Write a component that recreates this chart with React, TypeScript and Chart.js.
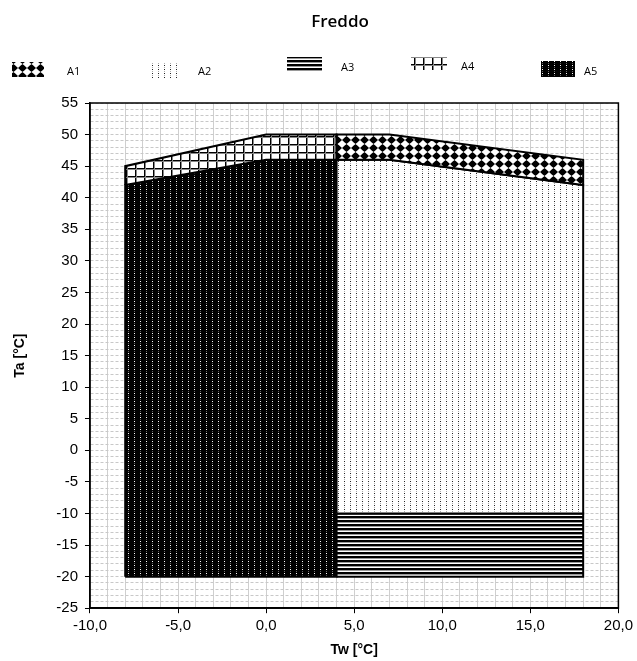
import React, { useEffect, useRef } from 'react';
import { Chart, registerables } from 'chart.js';

Chart.register(...registerables);

// ---------- data ----------
const TITLE = 'Freddo';
const X_TITLE = 'Tw [°C]';
const Y_TITLE = 'Ta [°C]';
const X_MIN = -10;
const X_MAX = 20;
const Y_MIN = -25;
const Y_MAX = 55;
const SERIES_NAMES = ['A1', 'A2', 'A3', 'A4', 'A5'];

const A1_TW = [4, 4, 7, 18, 18, 7, 4];
const A1_TA = [46, 50, 50, 46, 42, 46, 46];
const A2_TW = [4, 4, 7, 18, 18, 4];
const A2_TA = [-10, 46, 46, 42, -10, -10];
const A3_TW = [4, 4, 18, 18, 4];
const A3_TA = [-20, -10, -10, -20, -20];
const A4_TW = [-8, -8, 0, 4, 4, 0, -8];
const A4_TA = [42, 45, 50, 50, 46, 46, 42];
const A5_TW = [-8, -8, 0, 4, 4, -8];
const A5_TA = [-20, 42, 46, 46, -20, -20];

const SERIES_TW = [A1_TW, A2_TW, A3_TW, A4_TW, A5_TW];
const SERIES_TA = [A1_TA, A2_TA, A3_TA, A4_TA, A5_TA];

// ---------- layout for title / custom legend (positions only) ----------
const TITLE_POS = { x: 340, y: 22 };
const LEGEND_LAYOUT = [
  { sx: 12, sy: 62, sw: 32, sh: 15, tx: 67, ty: 72 },
  { sx: 148, sy: 62, sw: 33, sh: 16, tx: 198, ty: 72 },
  { sx: 287, sy: 57, sw: 35, sh: 15, tx: 341, ty: 68 },
  { sx: 411, sy: 57, sw: 36, sh: 13, tx: 461, ty: 67 },
  { sx: 541, sy: 61, sw: 34, sh: 16, tx: 584, ty: 72 },
];

type Draw = (g: CanvasRenderingContext2D, w: number, h: number) => void;
function makeTile(w: number, h: number, draw: Draw) {
  const c = document.createElement('canvas');
  c.width = w;
  c.height = h;
  const g = c.getContext('2d') as CanvasRenderingContext2D;
  draw(g, w, h);
  return c;
}

function buildTiles() {
  return [
    // A1 diamonds
    makeTile(9, 8, (g) => {
      g.fillStyle = '#fff';
      g.fillRect(0, 0, 9, 8);
      g.fillStyle = '#000';
      g.beginPath();
      g.moveTo(4.5, 0);
      g.lineTo(9, 4);
      g.lineTo(4.5, 8);
      g.lineTo(0, 4);
      g.closePath();
      g.fill();
      g.beginPath();
      g.arc(4.5, 4, 2.8, 0, Math.PI * 2);
      g.fill();
    }),
    // A2 sparse dots
    makeTile(6, 4, (g) => {
      g.fillStyle = '#fff';
      g.fillRect(0, 0, 6, 4);
      g.fillStyle = '#222';
      g.fillRect(2, 1, 1, 1);
      g.fillStyle = '#aaa';
      g.fillRect(2, 3, 1, 1);
    }),
    // A3 horizontal lines
    makeTile(4, 4, (g) => {
      g.fillStyle = '#000';
      g.fillRect(0, 0, 4, 2);
      g.fillStyle = '#9a9a9a';
      g.fillRect(0, 2, 4, 1);
      g.fillStyle = '#fff';
      g.fillRect(0, 3, 4, 1);
    }),
    // A4 grid
    makeTile(9, 8, (g) => {
      g.fillStyle = '#fff';
      g.fillRect(0, 0, 9, 8);
      g.fillStyle = '#000';
      g.fillRect(0, 0, 9, 1);
      g.fillRect(0, 0, 1, 8);
      g.fillStyle = '#888';
      g.fillRect(0, 1, 9, 1);
      g.fillRect(1, 0, 1, 8);
    }),
    // A5 black with white dots
    makeTile(6, 4, (g) => {
      g.fillStyle = '#000';
      g.fillRect(0, 0, 6, 4);
      g.fillStyle = '#ffffff';
      g.fillRect(2, 1, 1, 1);
      g.fillStyle = '#666';
      g.fillRect(2, 3, 1, 1);
    }),
  ];
}

const fmtX = (v: number) => v.toFixed(1).replace('.', ',');

export default function App() {
  const ref = useRef<HTMLCanvasElement | null>(null);

  useEffect(() => {
    const canvas = ref.current;
    if (!canvas) return;
    const ctx = canvas.getContext('2d') as CanvasRenderingContext2D;
    const tiles = buildTiles();
    const patterns = tiles.map((t) => ctx.createPattern(t, 'repeat') as CanvasPattern);

    const headerPlugin = {
      id: 'header',
      afterDraw(chart: any) {
        const c = chart.ctx as CanvasRenderingContext2D;
        c.save();
        c.fillStyle = '#000';
        c.font = '600 17px "Open Sans", Lato, sans-serif';
        c.textAlign = 'center';
        c.textBaseline = 'middle';
        c.fillText(TITLE, TITLE_POS.x, TITLE_POS.y);
        SERIES_NAMES.forEach((name, i) => {
          const L = LEGEND_LAYOUT[i];
          c.fillStyle = patterns[i];
          c.fillRect(L.sx, L.sy, L.sw, L.sh);
          c.fillStyle = '#000';
          c.font = '11px "Open Sans", "Noto Sans", sans-serif';
          c.textBaseline = 'middle';
          c.textAlign = 'left';
          c.fillText(name, L.tx, L.ty);
        });
        c.restore();
      },
    };

    const boxPlugin = {
      id: 'areaBox',
      afterDatasetsDraw(chart: any) {
        const a = chart.chartArea;
        const c = chart.ctx as CanvasRenderingContext2D;
        c.save();
        c.strokeStyle = '#000';
        c.lineWidth = 1.5;
        c.strokeRect(a.left, a.top, a.right - a.left, a.bottom - a.top);
        c.restore();
      },
    };

    const tickFont = { family: '"Liberation Sans", Arial, sans-serif', size: 15 };
    const titleFont = { family: '"Liberation Sans", Arial, sans-serif', size: 14, weight: 'bold' as const };

    const chart = new Chart(canvas, {
      type: 'scatter',
      data: {
        datasets: SERIES_NAMES.map((name, i) => ({
          label: name,
          data: SERIES_TW[i].map((x, j) => ({ x, y: SERIES_TA[i][j] })),
          showLine: true,
          fill: 'shape',
          backgroundColor: patterns[i],
          borderColor: '#000',
          borderWidth: 2,
          pointRadius: 0,
          pointHoverRadius: 0,
          tension: 0,
        })) as any,
      },
      plugins: [headerPlugin, boxPlugin],
      options: {
        animation: false,
        responsive: false,
        devicePixelRatio: 1,
        layout: { padding: { left: 4, right: 15, top: 103, bottom: 0 } },
        plugins: {
          legend: { display: false },
          tooltip: { enabled: false },
          title: { display: false },
        },
        scales: {
          x: {
            type: 'linear',
            min: X_MIN,
            max: X_MAX,
            ticks: {
              stepSize: 1,
              autoSkip: false,
              maxRotation: 0,
              minRotation: 0,
              padding: 4,
              color: '#000',
              font: tickFont,
              callback: (v: any) => (Number(v) % 5 === 0 ? fmtX(Number(v)) : ''),
            },
            grid: {
              color: '#cfcfcf',
              lineWidth: 1,
              tickLength: 5,
              tickColor: (c: any) => (c.tick && c.tick.value % 5 === 0 ? '#000' : 'rgba(0,0,0,0)'),
            },
            border: { color: '#000', width: 1.5 },
            title: { display: true, text: X_TITLE, color: '#000', font: titleFont, padding: { top: 3, bottom: 2 } },
          },
          y: {
            type: 'linear',
            min: Y_MIN,
            max: Y_MAX,
            ticks: {
              stepSize: 1,
              autoSkip: false,
              padding: 7,
              color: '#000',
              font: tickFont,
              callback: (v: any) => (Number(v) % 5 === 0 ? String(v) : ''),
            },
            grid: {
              color: '#c8c8c8',
              lineWidth: 1,
              tickLength: 5,
              tickColor: (c: any) => (c.tick && c.tick.value % 5 === 0 ? '#000' : 'rgba(0,0,0,0)'),
            },
            border: { color: '#000', width: 1.5, dash: [3, 2] },
            title: { display: true, text: Y_TITLE, color: '#000', font: titleFont, padding: { top: 7.6, bottom: 20.9 } },
          },
        },
      } as any,
    });

    return () => chart.destroy();
  }, []);

  return (
    <div style={{ position: 'absolute', left: 0, top: 0, width: 637, height: 661, background: '#fff' }}>
      <canvas ref={ref} width={637} height={661} style={{ display: 'block' }} />
    </div>
  );
}
